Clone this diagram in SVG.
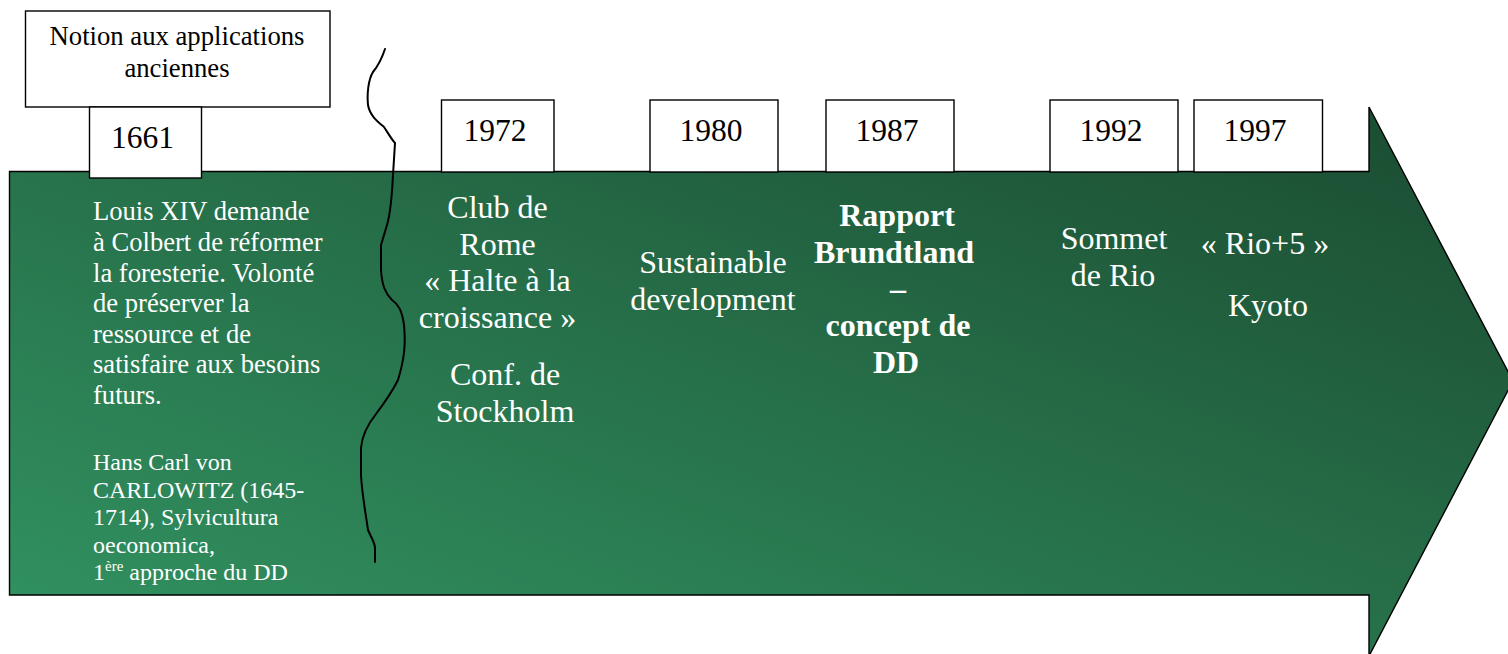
<svg xmlns="http://www.w3.org/2000/svg" width="1508" height="654" viewBox="0 0 1508 654">
  <defs>
    <linearGradient id="arrowFill" x1="0" y1="1" x2="1" y2="0">
      <stop offset="0" stop-color="#329462"/>
      <stop offset="1" stop-color="#1a4a30"/>
    </linearGradient>
    <style>
      text { font-family: "Liberation Serif", "Times New Roman", serif; }
      .box { fill: #ffffff; stroke: #000000; stroke-width: 1.4; }
      .arrow { fill: url(#arrowFill); stroke: #000000; stroke-width: 1.4; stroke-linejoin: miter; }
      .year { font-size: 31.5px; fill: #000000; text-anchor: middle; }
      .note { font-size: 26.7px; fill: #000000; text-anchor: middle; }
      .event { font-size: 32px; fill: #ffffff; text-anchor: middle; }
      .bold { font-weight: bold; }
      .body { font-size: 26.6px; fill: #ffffff; }
      .small { font-size: 24px; fill: #ffffff; }
      .wiggle { fill: none; stroke: #000000; stroke-width: 2; stroke-linecap: round; stroke-linejoin: round; }
    </style>
  </defs>

  <!-- timeline arrow -->
  <g id="timeline-arrow">
    <polygon class="arrow" points="9.5,171.5 1369,171.5 1369,107 1513,381 1369,656 1369,595 9.5,595"/>
  </g>

  <!-- header note above 1661 -->
  <g id="note-ancient">
    <rect class="box" x="25.5" y="11" width="304.5" height="96"/>
    <text class="note" x="177" y="45">Notion aux applications</text>
    <text class="note" x="177" y="77">anciennes</text>
  </g>

  <!-- year markers -->
  <g id="year-1661">
    <rect class="box" x="89.5" y="107" width="112" height="71"/>
    <text class="year" x="142.5" y="148">1661</text>
  </g>
  <g id="year-1972">
    <rect class="box" x="441.5" y="100" width="112.5" height="72"/>
    <text class="year" x="495" y="141">1972</text>
  </g>
  <g id="year-1980">
    <rect class="box" x="650" y="100" width="128" height="72"/>
    <text class="year" x="711" y="141">1980</text>
  </g>
  <g id="year-1987">
    <rect class="box" x="826" y="100" width="128" height="72"/>
    <text class="year" x="887" y="141">1987</text>
  </g>
  <g id="year-1992">
    <rect class="box" x="1050" y="100" width="128" height="72"/>
    <text class="year" x="1111" y="141">1992</text>
  </g>
  <g id="year-1997">
    <rect class="box" x="1194" y="100" width="128.5" height="72"/>
    <text class="year" x="1255" y="141">1997</text>
  </g>

  <!-- event descriptions -->
  <g id="event-1661">
    <text class="body" x="93" y="220">Louis XIV demande</text>
    <text class="body" x="93" y="251">à Colbert de réformer</text>
    <text class="body" x="93" y="281.5">la foresterie. Volonté</text>
    <text class="body" x="93" y="312">de préserver la</text>
    <text class="body" x="93" y="342.5">ressource et de</text>
    <text class="body" x="93" y="373">satisfaire aux besoins</text>
    <text class="body" x="93" y="403.5">futurs.</text>
    <text class="small" x="93" y="470">Hans Carl von</text>
    <text class="small" x="93" y="497.5">CARLOWITZ (1645-</text>
    <text class="small" x="93" y="525">1714), Sylvicultura</text>
    <text class="small" x="93" y="552.5">oeconomica,</text>
    <text class="small" x="93" y="580">1<tspan font-size="15" dy="-9">ère</tspan><tspan dy="9"> approche du DD</tspan></text>
  </g>

  <g id="event-1972">
    <text class="event" x="497.5" y="218">Club de</text>
    <text class="event" x="497.5" y="254.5">Rome</text>
    <text class="event" x="497.5" y="291">« Halte à la</text>
    <text class="event" x="497.5" y="328">croissance »</text>
    <text class="event" x="505" y="385">Conf. de</text>
    <text class="event" x="505" y="422">Stockholm</text>
  </g>

  <g id="event-1980">
    <text class="event" x="713" y="273">Sustainable</text>
    <text class="event" x="713" y="310">development</text>
  </g>

  <g id="event-1987">
    <text class="event bold" x="897" y="226">Rapport</text>
    <text class="event bold" x="894" y="262.5">Brundtland</text>
    <text class="event bold" x="898" y="299">–</text>
    <text class="event bold" x="898" y="336">concept de</text>
    <text class="event bold" x="896" y="372.5">DD</text>
  </g>

  <g id="event-1992">
    <text class="event" x="1114" y="249">Sommet</text>
    <text class="event" x="1113" y="286">de Rio</text>
  </g>

  <g id="event-1997">
    <text class="event" x="1265" y="254">« Rio+5 »</text>
    <text class="event" x="1268" y="316">Kyoto</text>
  </g>

  <!-- hand-drawn break line between the early period and the modern era -->
  <g id="connectors">
    <path class="wiggle" d="M385,49 C382,58 378,66 373,72 C368,80 367,95 368,105 C370,116 378,122 384,127 C388,133 392,140 395,143 L393,175 C392,195 390,215 387,225 L381,245 L381,270 C382,285 385,293 392,300 C398,304 402,310 404,325 C406,345 404,360 398,380 C392,392 385,402 376,414 C368,424 362,435 361,448 L361,475 C362,495 366,515 368,530 C371,537 375,543 375,548 L375,562"/>
  </g>
</svg>
